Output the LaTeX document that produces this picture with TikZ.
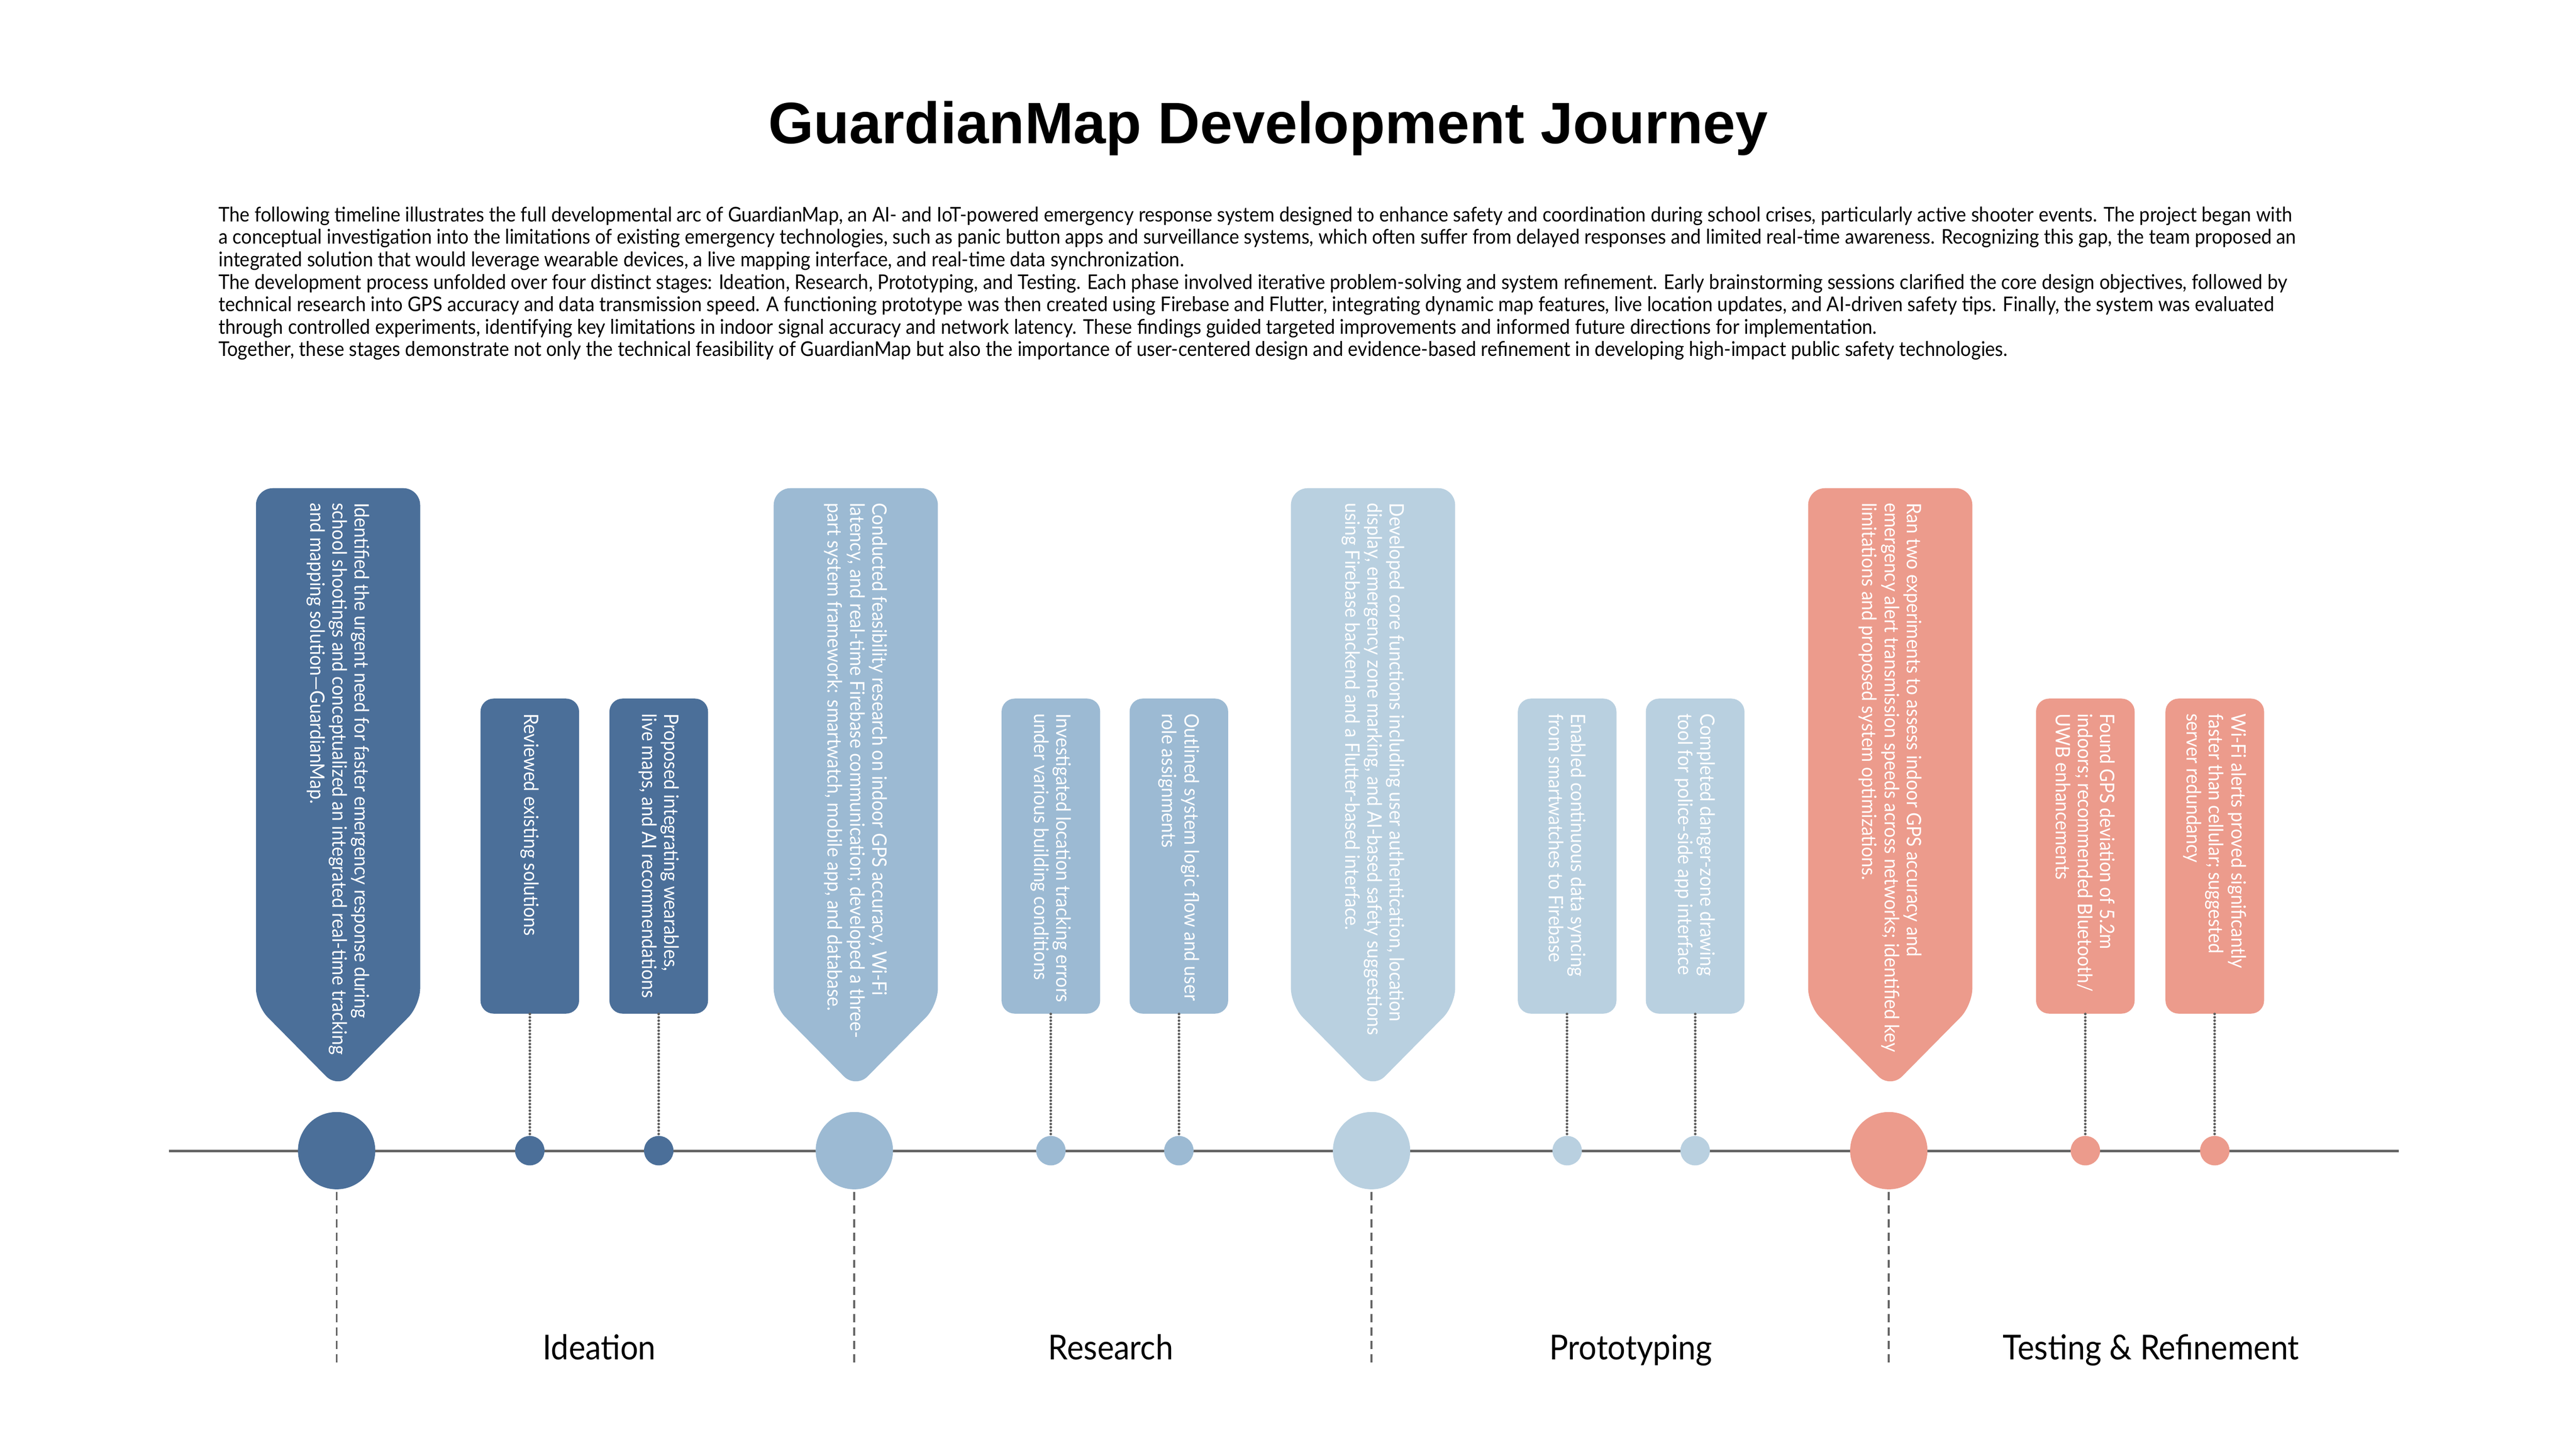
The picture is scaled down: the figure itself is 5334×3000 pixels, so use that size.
\documentclass[tikz,border=0pt]{standalone}
\usepackage{fontspec}
\setmainfont[FakeStretch=0.92]{Lato}
\newfontfamily\titlefont{Liberation Sans}
\definecolor{ideacol}{HTML}{4B6F99}
\definecolor{rescol}{HTML}{9CBAD3}
\definecolor{protcol}{HTML}{B9D0E0}
\definecolor{testcol}{HTML}{EC9B8C}
\definecolor{linecol}{HTML}{666666}
\tikzset{
  btext/.style={rotate=-90, text=white, align=left, inner sep=0pt, font=\fontsize{11.75}{13.1}\selectfont},
  ptext/.style={anchor=base west, inner sep=0pt, font=\fontsize{11.95}{13.2}\selectfont},
  sbox/.style={rectangle, rounded corners=0.27cm, minimum width=2.04cm, minimum height=6.52cm, inner sep=0pt, draw=none},
  bigdot/.style={circle, minimum size=1.60cm, inner sep=0pt, draw=none},
  smalldot/.style={circle, minimum size=0.61cm, inner sep=0pt, draw=none},
  dashline/.style={draw=linecol, line width=0.038cm, dash pattern=on 0.17cm off 0.11cm},
  dotline/.style={draw=linecol!90!black, line width=0.052cm, line cap=round, dash pattern=on 0.001cm off 0.068cm},
  tline/.style={draw=linecol, line width=0.055cm},
  stagelabel/.style={anchor=base, inner sep=0pt, font=\fontsize{20.2}{24}\selectfont}
}
\newcommand{\mkbig}[4]{%
  \fill[#3, rounded corners=0.35cm] (#2-167,1011) -- (#2+173,1011) -- (#2+173,2082) -- (#2+3,2254) -- (#2-167,2082) -- cycle;
  \node[btext, anchor=west] (#1t) at (#2+3,1041) {#4};
  \node[bigdot, fill=#3] (#1c) at (#2,2383) {};
  \coordinate (#1d) at (#2,2824);
  \draw[dashline] (#1c.south) ++(0,5) -- (#1d);
}
\newcommand{\mksmall}[4]{%
  \node[sbox, fill=#3] (#1b) at (#2,1773) {};
  \node[btext, anchor=west] (#1t) at (#2,1477) {#4};
  \node[smalldot, fill=#3] (#1c) at (#2,2383) {};
  \draw[dotline] (#1b.south) -- (#1c.north);
}
\begin{document}
\begin{tikzpicture}[x=0.01cm,y=-0.01cm]
\useasboundingbox[fill=white] (0,0) rectangle (5334,3000);

\node[anchor=base, inner sep=0pt, font=\titlefont\bfseries\fontsize{34.4}{40}\selectfont] (title) at (2626,297) {GuardianMap Development Journey};

\node[ptext] (p1) at (452,459) {The following timeline illustrates the full developmental arc of GuardianMap, an AI- and IoT-powered emergency response system designed to enhance safety and coordination during school crises, particularly active shooter events. The project began with};
\node[ptext] (p2) at (452,505.5) {a conceptual investigation into the limitations of existing emergency technologies, such as panic button apps and surveillance systems, which often suffer from delayed responses and limited real-time awareness. Recognizing this gap, the team proposed an};
\node[ptext] (p3) at (452,552) {integrated solution that would leverage wearable devices, a live mapping interface, and real-time data synchronization.};
\node[ptext] (p4) at (452,598.5) {The development process unfolded over four distinct stages: Ideation, Research, Prototyping, and Testing. Each phase involved iterative problem-solving and system refinement. Early brainstorming sessions clarified the core design objectives, followed by};
\node[ptext] (p5) at (452,645) {technical research into GPS accuracy and data transmission speed. A functioning prototype was then created using Firebase and Flutter, integrating dynamic map features, live location updates, and AI-driven safety tips. Finally, the system was evaluated};
\node[ptext] (p6) at (452,691.5) {through controlled experiments, identifying key limitations in indoor signal accuracy and network latency. These findings guided targeted improvements and informed future directions for implementation.};
\node[ptext] (p7) at (452,738) {Together, these stages demonstrate not only the technical feasibility of GuardianMap but also the importance of user-centered design and evidence-based refinement in developing high-impact public safety technologies.};

\coordinate (tl) at (350,2384);
\coordinate (tr) at (4967,2384);
\draw[tline] (tl) -- (tr);

% Ideation
\mkbig{ia}{697}{ideacol}{Identified the urgent need for faster emergency response during\\school shootings and conceptualized an integrated real-time tracking\\and mapping solution---GuardianMap.}
\mksmall{ib}{1097}{ideacol}{Reviewed existing solutions}
\mksmall{ic}{1364}{ideacol}{Proposed integrating wearables,\\live maps, and AI recommendations}
% Research
\mkbig{ra}{1769}{rescol}{Conducted feasibility research on indoor GPS accuracy, Wi-Fi\\latency, and real-time Firebase communication; developed a three-\\part system framework: smartwatch, mobile app, and database.}
\mksmall{rb}{2176}{rescol}{Investigated location tracking errors\\under various building conditions}
\mksmall{rc}{2441}{rescol}{Outlined system logic flow and user\\role assignments}
% Prototyping
\mkbig{pa}{2840}{protcol}{Developed core functions including user authentication, location\\display, emergency zone marking, and AI-based safety suggestions\\using Firebase backend and a Flutter-based interface.}
\mksmall{pb}{3245}{protcol}{Enabled continuous data syncing\\from smartwatches to Firebase}
\mksmall{pc}{3510}{protcol}{Completed danger-zone drawing\\tool for police-side app interface}
% Testing
\mkbig{ta}{3911}{testcol}{Ran two experiments to assess indoor GPS accuracy and\\emergency alert transmission speeds across networks; identified key\\limitations and proposed system optimizations.}
\mksmall{tb}{4318}{testcol}{Found GPS deviation of 5.2m\\indoors; recommended Bluetooth/\\UWB enhancements}
\mksmall{tc}{4586}{testcol}{Wi-Fi alerts proved significantly\\faster than cellular; suggested\\server redundancy}

\node[stagelabel] (l1) at (1241,2816) {Ideation};
\node[stagelabel] (l2) at (2300,2816) {Research};
\node[stagelabel] (l3) at (3377,2816) {Prototyping};
\node[stagelabel] (l4) at (4454,2816) {Testing \& Refinement};
\end{tikzpicture}
\end{document}
